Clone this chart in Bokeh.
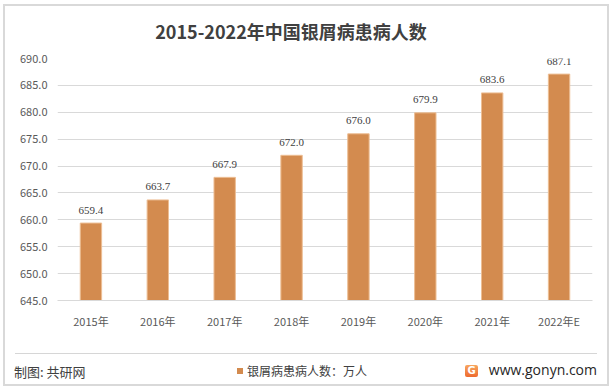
from bokeh.plotting import figure
from bokeh.layouts import column
from bokeh.models import (ColumnDataSource, LabelSet, FixedTicker, NumeralTickFormatter,
                          Range1d, Div)
from bokeh.embed import file_html
from bokeh.resources import INLINE

years = ["2015年", "2016年", "2017年", "2018年", "2019年", "2020年", "2021年", "2022年E"]
patients = [659.4, 663.7, 667.9, 672.0, 676.0, 679.9, 683.6, 687.1]
y_ticks = [645, 650, 655, 660, 665, 670, 675, 680, 685, 690]
title_text = "2015-2022年中国银屑病患病人数"
legend_text = "银屑病患病人数：万人"
source_text = "制图: 共研网"
site_text = "www.gonyn.com"

FONT = "Noto Sans CJK SC"
BAR = "#D38B4F"
W = 602
HH = 38
MH = 290
FH = 50

# ---- header (HTML) ----
head_html = (
    f'<div style="position:relative;width:{W}px;height:{HH}px;margin:0;padding:0;">'
    f'<div style="position:absolute;left:186px;top:14px;width:200px;height:22px;line-height:22px;'
    f'text-align:center;font-family:\'{FONT}\';font-size:18px;font-weight:bold;color:#404040;'
    f'white-space:nowrap;display:flex;justify-content:center;">{title_text}</div></div>'
)
head = Div(text=head_html, width=W, height=HH, styles={"margin": "0", "padding": "0"})

# ---- main chart ----
src = ColumnDataSource(dict(x=years, top=patients, lab=[f"{v:.1f}" for v in patients]))
p = figure(x_range=years, y_range=Range1d(645, 690), width=W, height=MH,
           output_backend="svg", toolbar_location=None,
           min_border_left=52, min_border_right=15, min_border_top=14, min_border_bottom=MH - 256)
p.outline_line_color = None
p.background_fill_color = "white"
p.border_fill_color = "white"

p.vbar(x="x", top="top", bottom=645, width=0.32, source=src,
       fill_color=BAR, line_color="#EDBE94", line_width=1)

p.add_layout(LabelSet(x="x", y="top", text="lab", source=src, y_offset=13,
                      text_align="center", text_baseline="middle",
                      text_font=FONT, text_font_size="11px", text_color="#404040"))

p.yaxis.ticker = FixedTicker(ticks=y_ticks)
p.yaxis.formatter = NumeralTickFormatter(format="0.0")
p.yaxis.axis_line_color = None
p.yaxis.major_tick_line_color = None
p.yaxis.minor_tick_line_color = None
p.yaxis.major_tick_out = 0
p.yaxis.major_label_standoff = 10
p.yaxis.major_label_text_font = FONT
p.yaxis.major_label_text_font_size = "11px"
p.yaxis.major_label_text_color = "#595959"

p.xaxis.axis_line_color = "#d9d9d9"
p.xaxis.major_tick_line_color = None
p.xaxis.minor_tick_line_color = None
p.xaxis.major_tick_out = 0
p.xaxis.major_label_standoff = 12
p.xaxis.major_label_text_font = FONT
p.xaxis.major_label_text_font_size = "11px"
p.xaxis.major_label_text_color = "#595959"

p.xgrid.grid_line_color = None
p.ygrid.grid_line_color = "#d9d9d9"

# ---- footer (HTML) ----
def abs_text(left, center_y, size, text, family, color, weight="normal", right=None):
    pos = f"right:{right}px;" if right is not None else f"left:{left}px;"
    lh = size + 4
    return (f'<div style="position:absolute;{pos}top:{center_y - lh / 2}px;height:{lh}px;'
            f'line-height:{lh}px;font-family:\'{family}\';font-size:{size}px;font-weight:{weight};'
            f'color:{color};white-space:nowrap;">{text}</div>')

OY = 10
foot_html = (
    f'<div style="position:relative;width:{W}px;height:{FH}px;margin:0;padding:0;">'
    + abs_text(9, OY + 27, 13, source_text, FONT, "#404040")
    + f'<div style="position:absolute;left:232px;top:{OY + 24}px;width:6px;height:6px;background:{BAR};"></div>'
    + abs_text(242, OY + 27, 12, legend_text, FONT, "#404040")
    + f'<div style="position:absolute;left:460px;top:{OY + 21}px;width:13px;height:12px;border-radius:2px;'
      f'background:linear-gradient(#F7A65E,#EE6A2E);color:white;font-family:\'DejaVu Sans\';'
      f'font-size:10px;font-weight:bold;line-height:12px;text-align:center;">G</div>'
    + abs_text(0, OY + 26, 14, site_text, "Open Sans", "#262626", right=10)
    + f'<div style="position:absolute;left:10px;top:{OY + 2}px;width:582px;height:8px;'
      f'border-bottom:1px solid #d6d6d6;font-size:1px;line-height:1px;">&nbsp;</div>'
    + '</div>'
)
foot = Div(text=foot_html, width=W, height=FH,
           styles={"margin": "0", "padding": "0", "z-index": "2", "position": "relative"})

layout = column(head, p, foot, spacing=0,
                styles={"margin": "4px 0 0 3px", "border": "2px solid #d9d9d9"})

open("out.html", "w").write(file_html(layout, INLINE))
